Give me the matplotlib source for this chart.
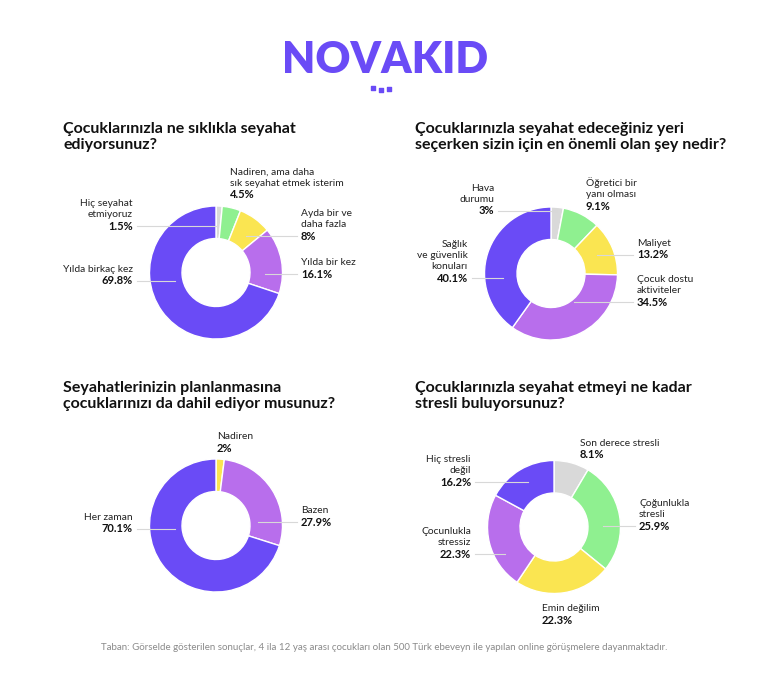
import matplotlib.pyplot as plt
import numpy as np

plt.rcParams['font.family'] = ['Lato', 'DejaVu Sans']

W, H = 768, 684
GRAY = '#d9d9d9'
GREEN = '#8ff090'
YELLOW = '#fae551'
LILAC = '#b86eec'
PURPLE = '#6a4bf6'

# soru 1
q1_title = "Çocuklarınızla ne sıklıkla seyahat\nediyorsunuz?"
q1_labels = ["Hiç seyahat\netmiyoruz", "Nadiren, ama daha\nsık seyahat etmek isterim",
             "Ayda bir ve\ndaha fazla", "Yılda bir kez", "Yılda birkaç kez"]
q1_values = [1.5, 4.5, 8, 16.1, 69.8]
q1_colors = [GRAY, GREEN, YELLOW, LILAC, PURPLE]

# soru 2
q2_title = "Çocuklarınızla seyahat edeceğiniz yeri\nseçerken sizin için en önemli olan şey nedir?"
q2_labels = ["Hava\ndurumu", "Öğretici bir\nyanı olması", "Maliyet",
             "Çocuk dostu\naktiviteler", "Sağlık\nve güvenlik\nkonuları"]
q2_values = [3, 9.1, 13.2, 34.5, 40.1]
q2_colors = [GRAY, GREEN, YELLOW, LILAC, PURPLE]

# soru 3
q3_title = "Seyahatlerinizin planlanmasına\nçocuklarınızı da dahil ediyor musunuz?"
q3_labels = ["Nadiren", "Bazen", "Her zaman"]
q3_values = [2, 27.9, 70.1]
q3_colors = [YELLOW, LILAC, PURPLE]

# soru 4
q4_title = "Çocuklarınızla seyahat etmeyi ne kadar\nstresli buluyorsunuz?"
q4_labels = ["Son derece stresli", "Çoğunlukla\nstresli", "Emin değilim",
             "Çocunlukla\nstressiz", "Hiç stresli\ndeğil"]
q4_values = [8.1, 25.9, 22.3, 22.3, 16.2]
q4_colors = [GRAY, GREEN, YELLOW, LILAC, PURPLE]

footer = ("Taban: Görselde gösterilen sonuçlar, 4 ila 12 yaş arası çocukları olan "
          "500 Türk ebeveyn ile yapılan online görüşmelere dayanmaktadır.")

# layout: (x, y of percent line, ha, leader line?)
charts = [
    dict(title=q1_title, title_xy=(63, 122), center=(216, 272.5),
         labels=q1_labels, values=q1_values, colors=q1_colors,
         pos=[(133, 226, 'right', True), (230, 194.5, 'left', False), (301, 236, 'left', True),
              (301, 274, 'left', True), (133, 281, 'right', True)]),
    dict(title=q2_title, title_xy=(415, 122), center=(551, 273.5),
         labels=q2_labels, values=q2_values, colors=q2_colors,
         pos=[(494, 211, 'right', True), (586, 206, 'left', False), (637, 255, 'left', True),
              (637, 302, 'left', True), (468, 278, 'right', True)]),
    dict(title=q3_title, title_xy=(63, 381), center=(216, 525.5),
         labels=q3_labels, values=q3_values, colors=q3_colors,
         pos=[(217, 448, 'left', False), (301, 522, 'left', True), (133, 529, 'right', True)]),
    dict(title=q4_title, title_xy=(415, 381), center=(554, 527),
         labels=q4_labels, values=q4_values, colors=q4_colors,
         pos=[(580, 455, 'left', False), (639, 526, 'left', True), (542, 620, 'left', False),
              (471, 554, 'right', True), (471, 482, 'right', True)]),
]

R_OUT, R_W = 66.5, 32.5
R_MID = R_OUT - R_W / 2

fig = plt.figure(figsize=(W / 100, H / 100), dpi=100)
ax = fig.add_axes([0, 0, 1, 1])

for ch in charts:
    cx, cy = ch['center']
    vals = np.array(ch['values'], dtype=float)
    ax.pie(vals, colors=ch['colors'], startangle=90, counterclock=False,
           radius=R_OUT, center=(cx, H - cy),
           wedgeprops=dict(width=R_W, edgecolor='white', linewidth=1))
    frac = vals / vals.sum()
    mids = (np.cumsum(frac) - frac / 2) * 2 * np.pi
    tx, ty = ch['title_xy']
    ax.text(tx, H - ty, ch['title'], fontsize=11.5, fontweight='bold', color='#111111',
            ha='left', va='top', linespacing=1.17)
    for lab, v, m, (x, y, ha, lead) in zip(ch['labels'], vals, mids, ch['pos']):
        ax.text(x, H - y, f"{v:g}%", fontsize=8, fontweight='bold', color='#111111',
                ha=ha, va='center')
        ax.text(x, H - y + 7, lab, fontsize=7.4, color='#222222', ha=ha, va='bottom',
                linespacing=1.3, multialignment=ha)
        if lead:
            ax_x = cx + R_MID * np.sin(m)
            x0 = x + 4 if ha == 'right' else x - 4
            ax.plot([x0, ax_x], [H - y, H - y], color='#d8d8d8', lw=0.8, zorder=5)

# logo
ax.text(385, H - 60, "NOVAKID", fontsize=31, fontweight='heavy', color=PURPLE,
        ha='center', va='center')
ax.scatter([373, 381, 389], [H - 88, H - 90, H - 89], marker='s', s=10, color=PURPLE)

ax.text(384, H - 648, footer, fontsize=7, color='#8a8a8a', ha='center', va='center')

ax.set_xlim(0, W)
ax.set_ylim(0, H)
ax.set_aspect('equal')
ax.axis('off')
fig.savefig('out.png', dpi=100, facecolor='white')
